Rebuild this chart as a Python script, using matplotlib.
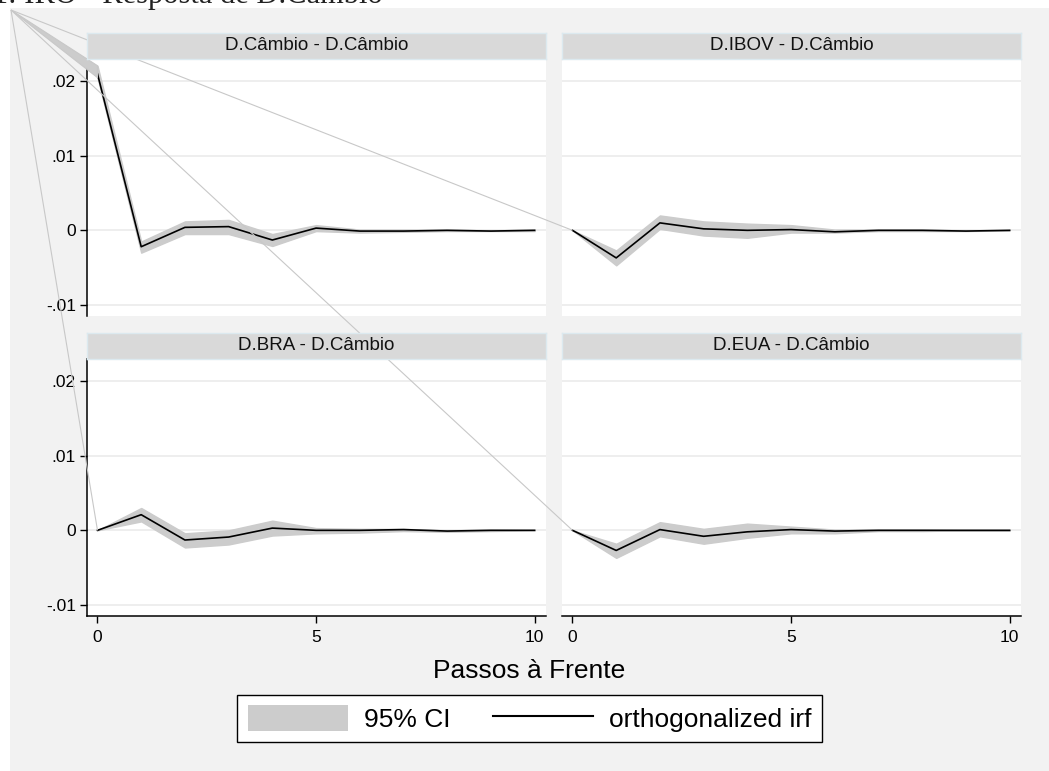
import matplotlib
matplotlib.use("Agg")
import matplotlib.pyplot as plt
from matplotlib.patches import Rectangle, Polygon, Patch
from matplotlib.lines import Line2D

# dados
passos = [0, 1, 2, 3, 4, 5, 6, 7, 8, 9, 10]
paineis = ["D.Câmbio - D.Câmbio", "D.IBOV - D.Câmbio",
           "D.BRA - D.Câmbio", "D.EUA - D.Câmbio"]

irf_cambio = [0.0210, -0.0022, 0.0004, 0.0005, -0.0013, 0.0003, -0.0001, -0.0001, 0.0000, -0.0001, 0.0000]
lo_cambio = [0.0205, -0.0030, -0.0005, -0.0005, -0.0021, -0.0001, -0.0003, -0.0002, -0.0001, -0.0001, -0.0001]
hi_cambio = [0.0221, -0.0015, 0.0012, 0.0014, -0.0005, 0.0007, 0.0001, 0.0001, 0.0001, 0.0000, 0.0001]

irf_ibov = [0.0, -0.0037, 0.0010, 0.0002, 0.0000, 0.0001, -0.0002, 0.0000, 0.0000, -0.0001, 0.0000]
lo_ibov = [0.0, -0.0047, 0.0002, -0.0007, -0.0010, -0.0003, -0.0003, -0.0001, -0.0001, -0.0001, 0.0]
hi_ibov = [0.0, -0.0027, 0.0020, 0.0012, 0.0009, 0.0007, 0.0001, 0.0001, 0.0001, 0.0000, 0.0]

irf_bra = [0.0, 0.0021, -0.0013, -0.0009, 0.0003, 0.0000, 0.0000, 0.0001, -0.0001, 0.0000, 0.0000]
lo_bra = [0.0, 0.0012, -0.0023, -0.0019, -0.0007, -0.0004, -0.0003, -0.0001, -0.0002, -0.0001, 0.0]
hi_bra = [0.0, 0.0030, -0.0004, 0.0000, 0.0013, 0.0003, 0.0002, 0.0002, 0.0000, 0.0001, 0.0]

irf_eua = [0.0, -0.0027, 0.0001, -0.0008, -0.0002, 0.0001, -0.0001, 0.0000, 0.0000, 0.0000, 0.0000]
lo_eua = [0.0, -0.0037, -0.0008, -0.0018, -0.0010, -0.0004, -0.0004, -0.0001, -0.0001, 0.0, 0.0]
hi_eua = [0.0, -0.0018, 0.0011, 0.0002, 0.0009, 0.0005, 0.0001, 0.0001, 0.0001, 0.0, 0.0]

y_ticks = [-0.01, 0, 0.01, 0.02]
y_labels = ["-.01", "0", ".01", ".02"]
x_ticks = [0, 5, 10]

series = [(irf_cambio, lo_cambio, hi_cambio), (irf_ibov, lo_ibov, hi_ibov),
          (irf_bra, lo_bra, hi_bra), (irf_eua, lo_eua, hi_eua)]

plt.rcParams['font.family'] = ['Liberation Sans', 'DejaVu Sans']

W, H = 1049, 771
fig = plt.figure(figsize=(W / 100, H / 100), dpi=100)

def fx(px):
    return px / W

def fy(py):
    return 1 - py / H

# fundo cinza do grafico
fig.add_artist(Rectangle((fx(10), 0), 1 - fx(10), fy(8), transform=fig.transFigure,
                         facecolor='#f2f2f2', edgecolor='none', zorder=-10))

# titulo (cortado no topo, como no original)
fig.text(fx(383), fy(3), "Gráfico 1: IRO - Resposta de D.Câmbio", ha='right', va='baseline',
         fontsize=22, family=['Liberation Serif', 'DejaVu Serif'], color='#222222')

cor_ci = '#cccccc'
posicoes = [(87, 546, 59, 316), (562, 1021, 59, 316),
            (87, 546, 359, 616), (562, 1021, 359, 616)]
eixos = []
for i, (x0, x1, y0, y1) in enumerate(posicoes):
    ax = fig.add_axes([fx(x0), fy(y1), fx(x1 - x0), (y1 - y0) / H], zorder=0)
    irf, lo, hi = series[i]
    ax.set_facecolor('white')
    ax.set_xlim(-0.24, 10.26)
    ax.set_ylim(-0.0115, 0.0230)
    ax.set_yticks(y_ticks)
    ax.set_xticks(x_ticks)
    ax.grid(axis='y', color='#ededed', linewidth=1.3)
    ax.set_axisbelow(True)
    ax.fill_between(passos, lo, hi, facecolor=cor_ci, edgecolor=cor_ci, linewidth=1.0)
    ax.plot(passos, irf, color='black', linewidth=1.2)
    for s in ['top', 'right']:
        ax.spines[s].set_visible(False)
    esquerda = i % 2 == 0
    baixo = i >= 2
    if esquerda:
        ax.spines['left'].set_color('black')
        ax.spines['left'].set_linewidth(1.1)
        ax.set_yticklabels(y_labels)
        ax.tick_params(axis='y', length=5, width=1, pad=3, labelsize=12.5)
    else:
        ax.spines['left'].set_visible(False)
        ax.tick_params(axis='y', length=0, labelleft=False)
    if baixo:
        ax.spines['bottom'].set_color('black')
        ax.spines['bottom'].set_linewidth(1.1)
        ax.tick_params(axis='x', length=5, width=1, pad=5, labelsize=12.5)
    else:
        ax.spines['bottom'].set_visible(False)
        ax.tick_params(axis='x', length=0, labelbottom=False)

    # faixa do titulo do painel
    st = fig.add_axes([fx(x0), fy(y0), fx(x1 - x0), 26 / H], zorder=2)
    st.set_facecolor('#d9d9d9')
    st.set_xticks([])
    st.set_yticks([])
    for s in st.spines.values():
        s.set_color('#dce9ef')
        s.set_linewidth(1)
    st.text(0.5, 0.5, paineis[i], ha='center', va='center', fontsize=13.5, color='#111111',
            transform=st.transAxes)
    eixos.append(ax)

# linhas espurias a partir do canto (artefato do grafico original)
inv = fig.transFigure.inverted()
canto = (fx(11), fy(10))
for i, ax in enumerate(eixos):
    irf, lo, hi = series[i]
    p_hi = inv.transform(ax.transData.transform((passos[0], hi[0])))
    p_lo = inv.transform(ax.transData.transform((passos[0], lo[0])))
    fig.add_artist(Polygon([canto, tuple(p_hi), tuple(p_lo)], closed=True,
                           transform=fig.transFigure, facecolor=cor_ci,
                           edgecolor='#c8c8c8', linewidth=0.8, zorder=1))

fig.text(fx(529.5), fy(678), "Passos à Frente", ha='center', va='baseline', fontsize=19)

handles = [Patch(facecolor=cor_ci, edgecolor='none'), Line2D([], [], color='black', linewidth=1.5)]
leg = fig.legend(handles, ["95% CI", "orthogonalized irf"], ncol=2, loc='center',
                 bbox_to_anchor=(fx(529.5), fy(718.5)), fontsize=19, frameon=True,
                 fancybox=False, edgecolor='black', facecolor='white', framealpha=1,
                 handlelength=3.8, handleheight=1.1, handletextpad=0.6,
                 columnspacing=1.6, borderpad=0.4)
leg.get_frame().set_linewidth(1)

fig.savefig("out.png", dpi=100)
